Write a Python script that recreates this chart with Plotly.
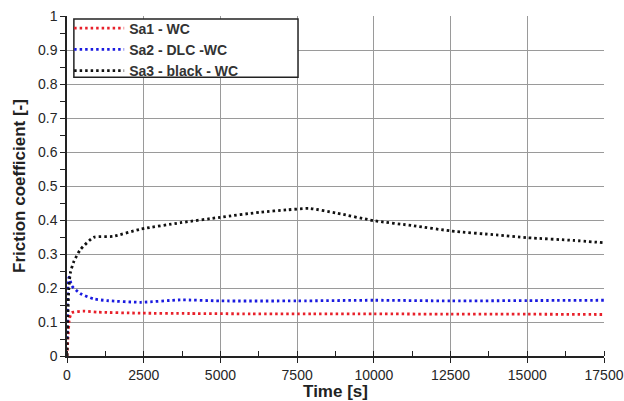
import plotly.graph_objects as go

t_sa1 = [0, 30, 80, 150, 220, 520, 1000, 2400, 4000, 6000, 8000, 10000, 12500, 15000, 17500]
f_sa1 = [0.0, 0.05, 0.11, 0.127, 0.129, 0.132, 0.129, 0.126, 0.125, 0.124, 0.124, 0.124, 0.123, 0.123, 0.122]

t_sa2 = [0, 20, 40, 70, 160, 430, 870, 1300, 2400, 3700, 5000, 7500, 10000, 12500, 15000, 17500]
f_sa2 = [0.05, 0.15, 0.225, 0.232, 0.206, 0.184, 0.168, 0.163, 0.158, 0.165, 0.162, 0.162, 0.164, 0.162, 0.163, 0.164]

t_sa3 = [0, 30, 60, 110, 220, 430, 870, 1500, 2400, 3700, 5000, 6300, 7200, 7900, 8800, 10000, 11300, 12500, 14000, 15000, 16500, 17500]
f_sa3 = [0.0, 0.12, 0.2, 0.245, 0.277, 0.312, 0.349, 0.352, 0.373, 0.392, 0.408, 0.423, 0.43, 0.434, 0.42, 0.398, 0.383, 0.368, 0.356, 0.348, 0.34, 0.333]

x_ticks = [0, 2500, 5000, 7500, 10000, 12500, 15000, 17500]
x_ticktext = [str(v) for v in x_ticks]

names = ["Sa1 - WC", "Sa2 - DLC -WC", "Sa3 - black - WC"]
colors = ["#e8202a", "#1a1ae0", "#111111"]

fig = go.Figure()
for t, f, n, c in zip([t_sa1, t_sa2, t_sa3], [f_sa1, f_sa2, f_sa3], names, colors):
    fig.add_trace(go.Scatter(x=t, y=f, mode="lines", name=n, line=dict(color=c, width=2.8, dash="2.5px,3px", shape="spline", smoothing=0.6)))

font = "Liberation Sans, Arial, sans-serif"
fig.update_layout(
    width=624, height=401,
    margin=dict(l=67, r=20, t=16, b=45),
    paper_bgcolor="white", plot_bgcolor="white",
    font=dict(family=font, size=14, color="#262626"),
    showlegend=True,
    legend=dict(x=0.004, y=1.01, xanchor="left", yanchor="top", bgcolor="rgba(0,0,0,0)",
                borderwidth=0, font=dict(size=14, color="#333333", weight="bold"),
                tracegroupgap=0, itemwidth=50),
    shapes=[dict(type="rect", xref="paper", yref="paper", x0=0.0128, x1=0.4302, y0=0.82, y1=0.991,
                 line=dict(color="#222", width=1.5), fillcolor="white", layer="above")],
)
fig.update_xaxes(
    range=[0, 17500], tickvals=x_ticks, ticktext=x_ticktext, automargin=False,
    showgrid=True, gridcolor="#9a9a9a", gridwidth=1,
    showline=True, linecolor="#222", linewidth=1.5,
    ticks="outside", ticklen=5, tickcolor="#222",
    minor=dict(dtick=1250, ticks="inside", ticklen=5, tickcolor="#222", showgrid=False),
    zeroline=False,
    title=dict(text="<b>Time [s]</b>", font=dict(size=17, color="#222"), standoff=5),
)
fig.update_yaxes(
    range=[0, 1], dtick=0.1, tickformat="~g", automargin=False,
    showgrid=True, gridcolor="#9a9a9a", gridwidth=1,
    showline=True, linecolor="#222", linewidth=1.5,
    ticks="outside", ticklen=5, tickcolor="#222",
    minor=dict(dtick=0.05, ticks="outside", ticklen=5, tickcolor="#222", showgrid=False),
    zeroline=False,
    title=dict(text="<b>Friction coefficient [-]</b>", font=dict(size=17, color="#222"), standoff=8),
)
fig.write_html("out.html")
